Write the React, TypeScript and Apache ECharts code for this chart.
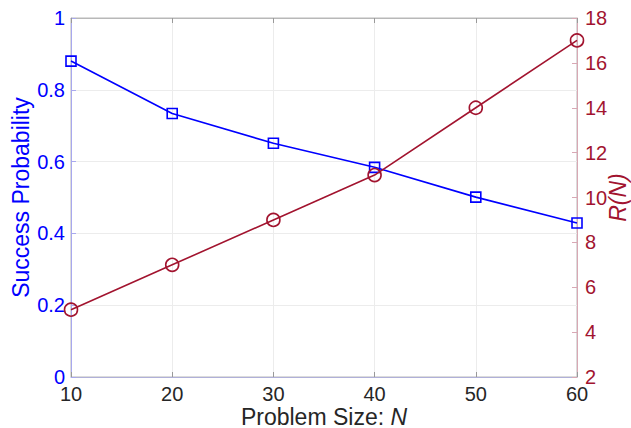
import React, { useEffect, useRef } from "react";
import * as echarts from "echarts";

const problemSizes = [10, 20, 30, 40, 50, 60];
const successProbability = [0.88, 0.734, 0.651, 0.584, 0.501, 0.429];
const rN = [5, 7, 9, 11, 14, 17];

const BLUE = "#0000FF";
const RED = "#A2142F";
const FONT = "Liberation Sans";
const FS = 20;
const NFS = 23;

export default function App() {
  const ref = useRef<HTMLDivElement>(null);
  useEffect(() => {
    const chart = echarts.init(ref.current!, null, { renderer: "svg" });
    chart.setOption({
      animation: false,
      textStyle: { fontFamily: FONT },
      grid: {
        left: 71,
        right: 54,
        top: 18,
        bottom: 51,
        outerBoundsMode: "none",
        containLabel: false,
        show: true,
        borderColor: "#b8b8b8",
        borderWidth: 1,
      },
      xAxis: [
        {
          type: "value",
          min: 10,
          max: 60,
          interval: 10,
          name: "Problem Size: {i|N}",
          nameLocation: "middle",
          nameGap: 29,
          nameMoveOverlap: false,
          nameTextStyle: {
            color: "#262626",
            fontSize: NFS,
            lineHeight: 21,
            fontFamily: FONT,
            rich: { i: { fontStyle: "italic", fontSize: NFS, lineHeight: 21, color: "#262626", fontFamily: FONT } },
          },
          axisLine: { show: true, lineStyle: { color: "#b0b0d8", width: 1 } },
          axisTick: { show: true, inside: true, length: 5, lineStyle: { color: "#999" } },
          axisLabel: { color: "#262626", fontSize: FS, lineHeight: 18, margin: 8, fontFamily: FONT },
          splitLine: { show: true, lineStyle: { color: "#ececec", width: 1 } },
        },
        {
          type: "value",
          position: "top",
          min: 10,
          max: 60,
          interval: 10,
          axisLine: { show: true, lineStyle: { color: "#b8b8b8", width: 1 } },
          axisTick: { show: true, inside: true, length: 5, lineStyle: { color: "#999" } },
          axisLabel: { show: false },
          splitLine: { show: false },
        },
      ],
      yAxis: [
        {
          type: "value",
          min: 0,
          max: 1,
          interval: 0.2,
          name: "Success Probability",
          nameLocation: "middle",
          nameGap: 39,
          nameMoveOverlap: false,
          nameTextStyle: { color: BLUE, fontSize: NFS, fontFamily: FONT },
          axisLine: { show: true, lineStyle: { color: "#a8a8ee", width: 1 } },
          axisTick: { show: true, inside: true, length: 5, lineStyle: { color: "#a8a8ee" } },
          axisLabel: {
            color: BLUE,
            fontSize: FS,
            lineHeight: 14,
            margin: 6,
            fontFamily: FONT,
            formatter: (v: number) => (v === 0 || v === 1 ? String(v) : v.toFixed(1)),
          },
          splitLine: { show: true, lineStyle: { color: "#ececec", width: 1 } },
        },
        {
          type: "value",
          min: 2,
          max: 18,
          interval: 2,
          position: "right",
          name: "R(N)",
          nameLocation: "middle",
          nameGap: 30,
          nameMoveOverlap: false,
          nameRotate: 90,
          nameTextStyle: { color: RED, fontSize: NFS, lineHeight: 22, fontStyle: "italic", fontFamily: FONT },
          axisLine: { show: true, lineStyle: { color: "#d8a8b4", width: 1 } },
          axisTick: { show: true, inside: true, length: 5, lineStyle: { color: "#d8a8b4" } },
          axisLabel: { color: RED, fontSize: FS, lineHeight: 14, margin: 8, fontFamily: FONT },
          splitLine: { show: false },
        },
      ],
      series: [
        {
          type: "line",
          name: "Success Probability",
          xAxisIndex: 0,
          yAxisIndex: 0,
          data: problemSizes.map((x, i) => [x, successProbability[i]]),
          symbol: "rect",
          symbolSize: 10,
          showAllSymbol: true,
          lineStyle: { color: BLUE, width: 1.6 },
          itemStyle: { color: "#ffffff00", borderColor: BLUE, borderWidth: 1.6 },
          z: 3,
        },
        {
          type: "line",
          name: "R(N)",
          xAxisIndex: 0,
          yAxisIndex: 1,
          data: problemSizes.map((x, i) => [x, rN[i]]),
          symbol: "circle",
          symbolSize: 13,
          lineStyle: { color: RED, width: 1.6 },
          itemStyle: { color: "#ffffff00", borderColor: RED, borderWidth: 1.6 },
          z: 4,
        },
      ],
    });
    return () => chart.dispose();
  }, []);
  return <div ref={ref} style={{ width: 631, height: 428, position: "absolute", left: 0, top: 0 }} />;
}
